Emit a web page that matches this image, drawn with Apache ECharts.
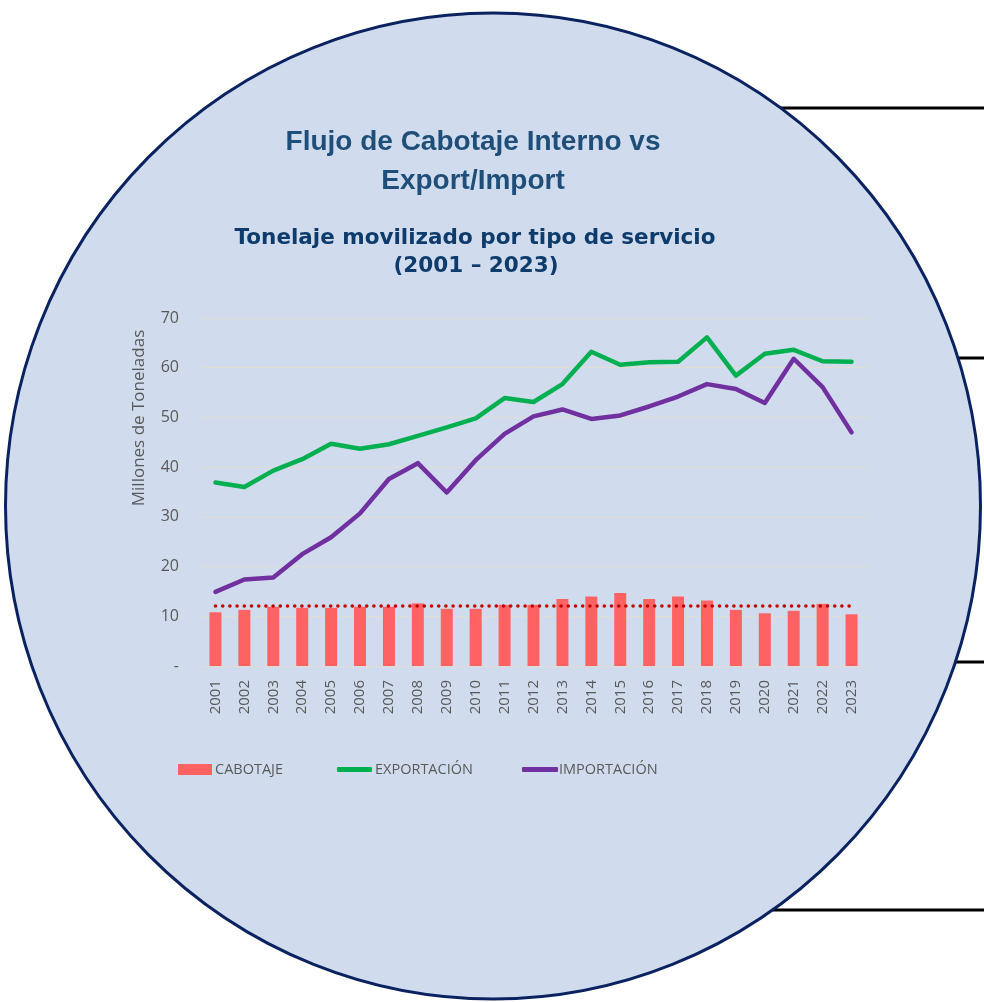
<!DOCTYPE html>
<html>
<head>
<meta charset="utf-8">
<script src="https://cdn.jsdelivr.net/npm/echarts@6/dist/echarts.min.js"></script>
<style>
html,body{margin:0;padding:0;background:#fff;}
#chart{width:984px;height:1002px;}
</style>
</head>
<body>
<div id="chart"></div>
<script>
const years = ['2001','2002','2003','2004','2005','2006','2007','2008','2009','2010','2011','2012','2013','2014','2015','2016','2017','2018','2019','2020','2021','2022','2023'];
const cabotaje = [10.8,11.3,11.9,11.7,11.7,11.9,11.9,12.6,11.5,11.5,12.3,12.3,13.5,14.0,14.7,13.5,14.0,13.2,11.3,10.6,11.1,12.5,10.4];
const exportacion = [36.9,36.0,39.3,41.6,44.7,43.7,44.6,46.3,48.0,49.8,53.9,53.1,56.7,63.2,60.6,61.1,61.2,66.1,58.4,62.8,63.6,61.3,61.2];
const importacion = [14.9,17.4,17.8,22.5,25.9,30.7,37.6,40.8,34.9,41.4,46.7,50.2,51.6,49.7,50.4,52.2,54.2,56.7,55.7,52.9,61.8,56.1,47.0];
const yTicks = [0,10,20,30,40,50,60,70];

const titleLines = ['Flujo de Cabotaje Interno vs', 'Export/Import'];
const subtitleLines = ['Tonelaje movilizado por tipo de servicio', '(2001 \u2013 2023)'];
const yAxisName = 'Millones de Toneladas';

const avgCabotaje = cabotaje.reduce((a,b)=>a+b,0)/cabotaje.length;

const labelFont = '"Open Sans", "Noto Sans", sans-serif';
const gray = '#595959';

const chart = echarts.init(document.getElementById('chart'), null, {renderer:'canvas'});

const option = {
  backgroundColor: '#ffffff',
  animation: false,
  graphic: [
    {type:'line', z:-30, shape:{x1:700,y1:108,x2:984,y2:108}, style:{stroke:'#000',lineWidth:3}},
    {type:'line', z:-30, shape:{x1:900,y1:358,x2:984,y2:358}, style:{stroke:'#000',lineWidth:3}},
    {type:'line', z:-30, shape:{x1:900,y1:662,x2:984,y2:662}, style:{stroke:'#000',lineWidth:3}},
    {type:'line', z:-30, shape:{x1:700,y1:910,x2:984,y2:910}, style:{stroke:'#000',lineWidth:3}},
    {type:'circle', z:-20, x:493, y:506, scaleY:1.0113, shape:{cx:0, cy:0, r:487.5},
      style:{fill:'#D0DCEE', stroke:'#0A2360', lineWidth:3}},
    {type:'text', z:10, x:473, y:142, style:{text:titleLines[0], textAlign:'center', textVerticalAlign:'middle',
      fill:'#1F4E79', font:'bold 28px "Liberation Sans", Arial, sans-serif'}},
    {type:'text', z:10, x:473, y:181, style:{text:titleLines[1], textAlign:'center', textVerticalAlign:'middle',
      fill:'#1F4E79', font:'bold 28px "Liberation Sans", Arial, sans-serif'}},
    {type:'text', z:10, x:475, y:238, style:{text:subtitleLines[0], textAlign:'center', textVerticalAlign:'middle',
      fill:'#0D3B6B', font:'bold 21.5px "DejaVu Sans", Verdana, sans-serif'}},
    {type:'text', z:10, x:476, y:266, style:{text:subtitleLines[1], textAlign:'center', textVerticalAlign:'middle',
      fill:'#0D3B6B', font:'bold 21.5px "DejaVu Sans", Verdana, sans-serif'}},
    {type:'text', z:10, x:139, y:418, rotation:Math.PI/2, style:{text:yAxisName, textAlign:'center', textVerticalAlign:'middle',
      fill:gray, font:'17px ' + labelFont}}
  ],
  legend: [
    {data:[{name:'CABOTAJE', icon:'rect'}], left:178, top:762, padding:0, itemWidth:34, itemHeight:11, itemGap:0,
      textStyle:{color:gray, fontSize:14.5, fontFamily:labelFont, padding:[0,0,0,-2]}, selectedMode:false},
    {data:[{name:'EXPORTACIÓN', icon:'roundRect'}], left:337, top:762, padding:0, itemWidth:35, itemHeight:5, itemGap:0,
      textStyle:{color:gray, fontSize:14.5, fontFamily:labelFont, padding:[0,0,0,-2]}, selectedMode:false},
    {data:[{name:'IMPORTACIÓN', icon:'roundRect'}], left:522, top:762, padding:0, itemWidth:36, itemHeight:5, itemGap:0,
      textStyle:{color:gray, fontSize:14.5, fontFamily:labelFont, padding:[0,0,0,-4]}, selectedMode:false}
  ],
  grid: {left:201, right:118, top:318, bottom:336, containLabel:false},
  xAxis: {
    type:'category', data:years, boundaryGap:true,
    axisLine:{show:true, lineStyle:{color:'#E2DDD2', width:1}},
    axisTick:{show:false},
    axisLabel:{rotate:90, margin:14, color:gray, fontSize:15, fontFamily:labelFont, interval:0}
  },
  yAxis: {
    type:'value', min:yTicks[0], max:yTicks[yTicks.length-1], interval:10,
    axisLine:{show:false}, axisTick:{show:false},
    splitLine:{show:true, lineStyle:{color:'#E2DDD2', width:1}},
    axisLabel:{margin:22, color:gray, fontSize:16, fontFamily:labelFont,
      formatter: v => v === 0 ? '-' : String(v)}
  },
  series: [
    {
      name:'CABOTAJE', type:'bar', data:cabotaje, barWidth:12,
      itemStyle:{color:'#FF6262'}, z:2,
      markLine:{
        silent:true, symbol:['none','none'], label:{show:false},
        lineStyle:{color:'#C00000', width:3.5, type:[0.1,7.1], cap:'round'},
        data:[[{coord:[years[0], avgCabotaje]}, {coord:[years[years.length-1], avgCabotaje]}]],
        z:5
      }
    },
    {
      name:'EXPORTACIÓN', type:'line', data:exportacion, showSymbol:false, symbol:'none',
      lineStyle:{color:'#00B050', width:4.5, join:'round', cap:'round'}, itemStyle:{color:'#00B050'}, z:3
    },
    {
      name:'IMPORTACIÓN', type:'line', data:importacion, showSymbol:false, symbol:'none',
      lineStyle:{color:'#7030A0', width:4.5, join:'round', cap:'round'}, itemStyle:{color:'#7030A0'}, z:3
    }
  ]
};
chart.setOption(option);
</script>
</body>
</html>
